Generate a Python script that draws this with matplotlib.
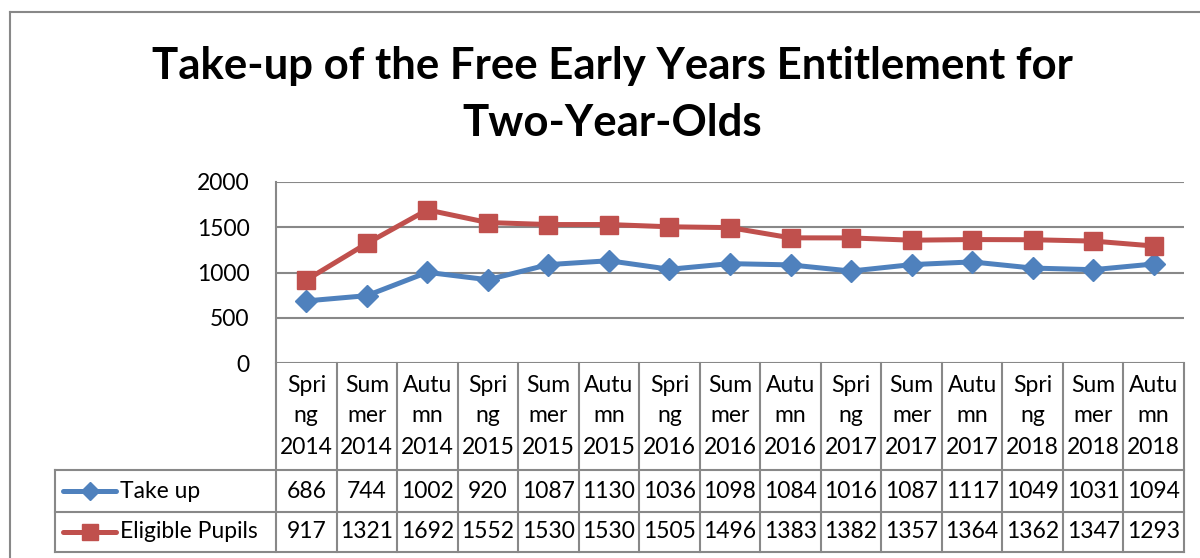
import matplotlib.pyplot as plt
from matplotlib import transforms
from matplotlib.lines import Line2D

plt.rcParams['font.family'] = ['Lato', 'DejaVu Sans']

# chart data
seasons = ["Spring", "Summer", "Autumn"] * 5
years = [2014] * 3 + [2015] * 3 + [2016] * 3 + [2017] * 3 + [2018] * 3
take_up = [686, 744, 1002, 920, 1087, 1130, 1036, 1098, 1084, 1016, 1087, 1117, 1049, 1031, 1094]
eligible = [917, 1321, 1692, 1552, 1530, 1530, 1505, 1496, 1383, 1382, 1357, 1364, 1362, 1347, 1293]
series_names = ["Take up", "Eligible Pupils"]
yticks = [0, 500, 1000, 1500, 2000]

# how excel wrapped the season words in the narrow columns
wrapped = {"Spring": ("Spri", "ng"), "Summer": ("Sum", "mer"), "Autumn": ("Autu", "mn")}

blue = '#4F81BD'
red = '#C0504D'
grid_c = '#888888'
fs = 16.5

W, H = 1200, 558
fig = plt.figure(figsize=(12, 5.58), dpi=100)

def fy(py):
    return 1 - py / H

def fx(px):
    return px / W

# outer chart border (runs off the right/bottom of the crop)
fig.add_artist(Line2D([fx(10), 1], [fy(12), fy(12)], color=grid_c, lw=1.5))
fig.add_artist(Line2D([fx(10), fx(10)], [fy(12), 0], color=grid_c, lw=1.5))

ax_l, ax_r, ax_t, ax_b = 276, 1184, 182, 363
ax = fig.add_axes([fx(ax_l), fy(ax_b), fx(ax_r - ax_l), (ax_b - ax_t) / H])

n = len(take_up)
x = list(range(n))
ax.plot(x, take_up, color=blue, lw=3.6, marker='D', ms=11.5, zorder=3)
ax.plot(x, eligible, color=red, lw=3.6, marker='s', ms=13.5, zorder=3)

ax.set_xlim(-0.5, n - 0.5)
ax.set_ylim(0, 2000)
ax.set_yticks(yticks)
ax.set_xticks([])
ax.tick_params(axis='y', length=0, pad=19, labelsize=fs)
ax.grid(axis='y', color=grid_c, lw=1.5)
ax.set_axisbelow(True)
for s in ['top', 'right', 'bottom']:
    ax.spines[s].set_visible(False)
ax.spines['left'].set_color(grid_c)
ax.spines['left'].set_linewidth(1.5)

fig.text(fx(612), fy(66), "Take-up of the Free Early Years Entitlement for",
         ha='center', va='center', fontsize=31.5, fontweight='bold')
fig.text(fx(612), fy(123), "Two-Year-Olds",
         ha='center', va='center', fontsize=31.5, fontweight='bold')

# data table under the plot
tr = transforms.blended_transform_factory(ax.transData, fig.transFigure)
hdr_top, row1_top, row2_top, tbl_bot = 363, 470, 512, 552
leg_left = 55

for i in range(n + 1):
    fig.add_artist(Line2D([i - 0.5, i - 0.5], [fy(hdr_top), fy(tbl_bot)],
                          transform=tr, color=grid_c, lw=1.5))
for py in [row1_top, row2_top, tbl_bot]:
    fig.add_artist(Line2D([fx(leg_left), fx(ax_r)], [fy(py), fy(py)], color=grid_c, lw=1.5))
fig.add_artist(Line2D([fx(leg_left), fx(leg_left)], [fy(row1_top), fy(tbl_bot)], color=grid_c, lw=1.5))

line_y = [385, 416, 447]
for i in range(n):
    parts = list(wrapped[seasons[i]]) + [str(years[i])]
    for part, py in zip(parts, line_y):
        fig.text(i, fy(py), part, transform=tr, ha='center', va='center', fontsize=fs)

rows = [(take_up, blue, 'D', 11, series_names[0]), (eligible, red, 's', 13, series_names[1])]
row_mid = [(row1_top + row2_top) / 2, (row2_top + tbl_bot) / 2]
for (vals, col, mk, ms, name), py in zip(rows, row_mid):
    fig.add_artist(Line2D([fx(63), fx(116)], [fy(py), fy(py)], color=col, lw=3.6,
                          solid_capstyle='round'))
    fig.add_artist(Line2D([fx(89.5)], [fy(py)], color=col, marker=mk, ms=ms * 0.85, lw=0))
    fig.text(fx(120), fy(py), name, ha='left', va='center', fontsize=fs)
    for i, v in enumerate(vals):
        fig.text(i, fy(py), str(v), transform=tr, ha='center', va='center', fontsize=fs)

fig.savefig('out.png', dpi=100)
